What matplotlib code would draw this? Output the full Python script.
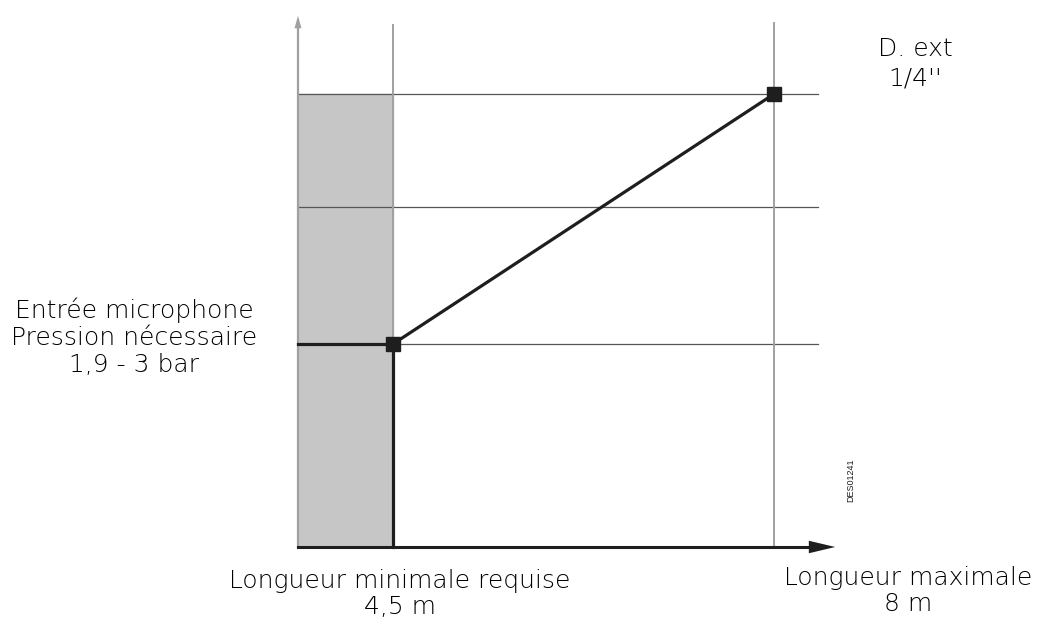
import matplotlib.pyplot as plt

# schematic positions (not to scale), 1 unit = 100 px
length_labels = ["4,5 m", "8 m"]
length_pos = [0.95, 4.76]
level_pos = [2.03, 3.40, 4.53]
curve_x = [0.95, 4.76]
curve_y = [2.03, 4.53]

plt.rcParams['font.family'] = ['DejaVu Sans']

fig = plt.figure(figsize=(10.38, 6.21), dpi=100)
ax = fig.add_axes([0, 0, 1, 1])
ax.set_xlim(-2.98, 7.40)
ax.set_ylim(-0.74, 5.47)
ax.axis('off')

# grey zone (below the minimal length)
ax.fill_between([0, length_pos[0]], 0, level_pos[-1], color='#c6c6c6', zorder=1)

# horizontal reference lines
for y in level_pos:
    ax.plot([0, 5.20], [y, y], color='#555555', lw=0.9, zorder=2)

# vertical lines for the lengths
ax.plot([length_pos[0]] * 2, [0, 5.22], color='#a0a0a0', lw=1.4, zorder=2)
ax.plot([length_pos[1]] * 2, [0, 5.24], color='#a0a0a0', lw=1.4, zorder=2)

# y axis (grey arrow)
ax.plot([0, 0], [0, 5.20], color='#a0a0a0', lw=1.6, zorder=3)
ax.annotate('', xy=(0, 5.34), xytext=(0, 5.15),
            arrowprops=dict(arrowstyle='-|>,head_length=0.9,head_width=0.25',
                            color='#a0a0a0', lw=0))

# x axis (black arrow)
ax.plot([0, 5.15], [0, 0], color='#1e1e1e', lw=2.2, zorder=3)
ax.annotate('', xy=(5.40, 0), xytext=(5.10, 0),
            arrowprops=dict(arrowstyle='-|>,head_length=1.9,head_width=0.45',
                            color='#1e1e1e', lw=0))

# required minimum path
ax.plot([0, curve_x[0], curve_x[0]], [curve_y[0], curve_y[0], 0],
        color='#1e1e1e', lw=2.3, zorder=4)
ax.plot(curve_x, curve_y, color='#1e1e1e', lw=2.3, zorder=4)
ax.plot(curve_x, curve_y, 's', color='#1e1e1e', ms=9.5, zorder=5)

fs = 18
txt = dict(ha='center', va='center', fontsize=fs, linespacing=1.15,
           color='#000000', fontweight='light')
ax.text(-1.64, 2.10, "Entrée microphone\nPression nécessaire\n1,9 - 3 bar", **txt)
ax.text(1.02, -0.47, "Longueur minimale requise\n" + length_labels[0], **txt)
ax.text(6.10, -0.44, "Longueur maximale\n" + length_labels[1], **txt)
txt['linespacing'] = 1.3
ax.text(6.17, 4.83, "D. ext\n1/4''", **txt)
ax.text(5.53, 0.67, "DES01241", rotation=90, ha='center', va='center',
        fontsize=6.5, family='Liberation Sans', color='#1e1e1e')

fig.savefig('out.png', dpi=100)
